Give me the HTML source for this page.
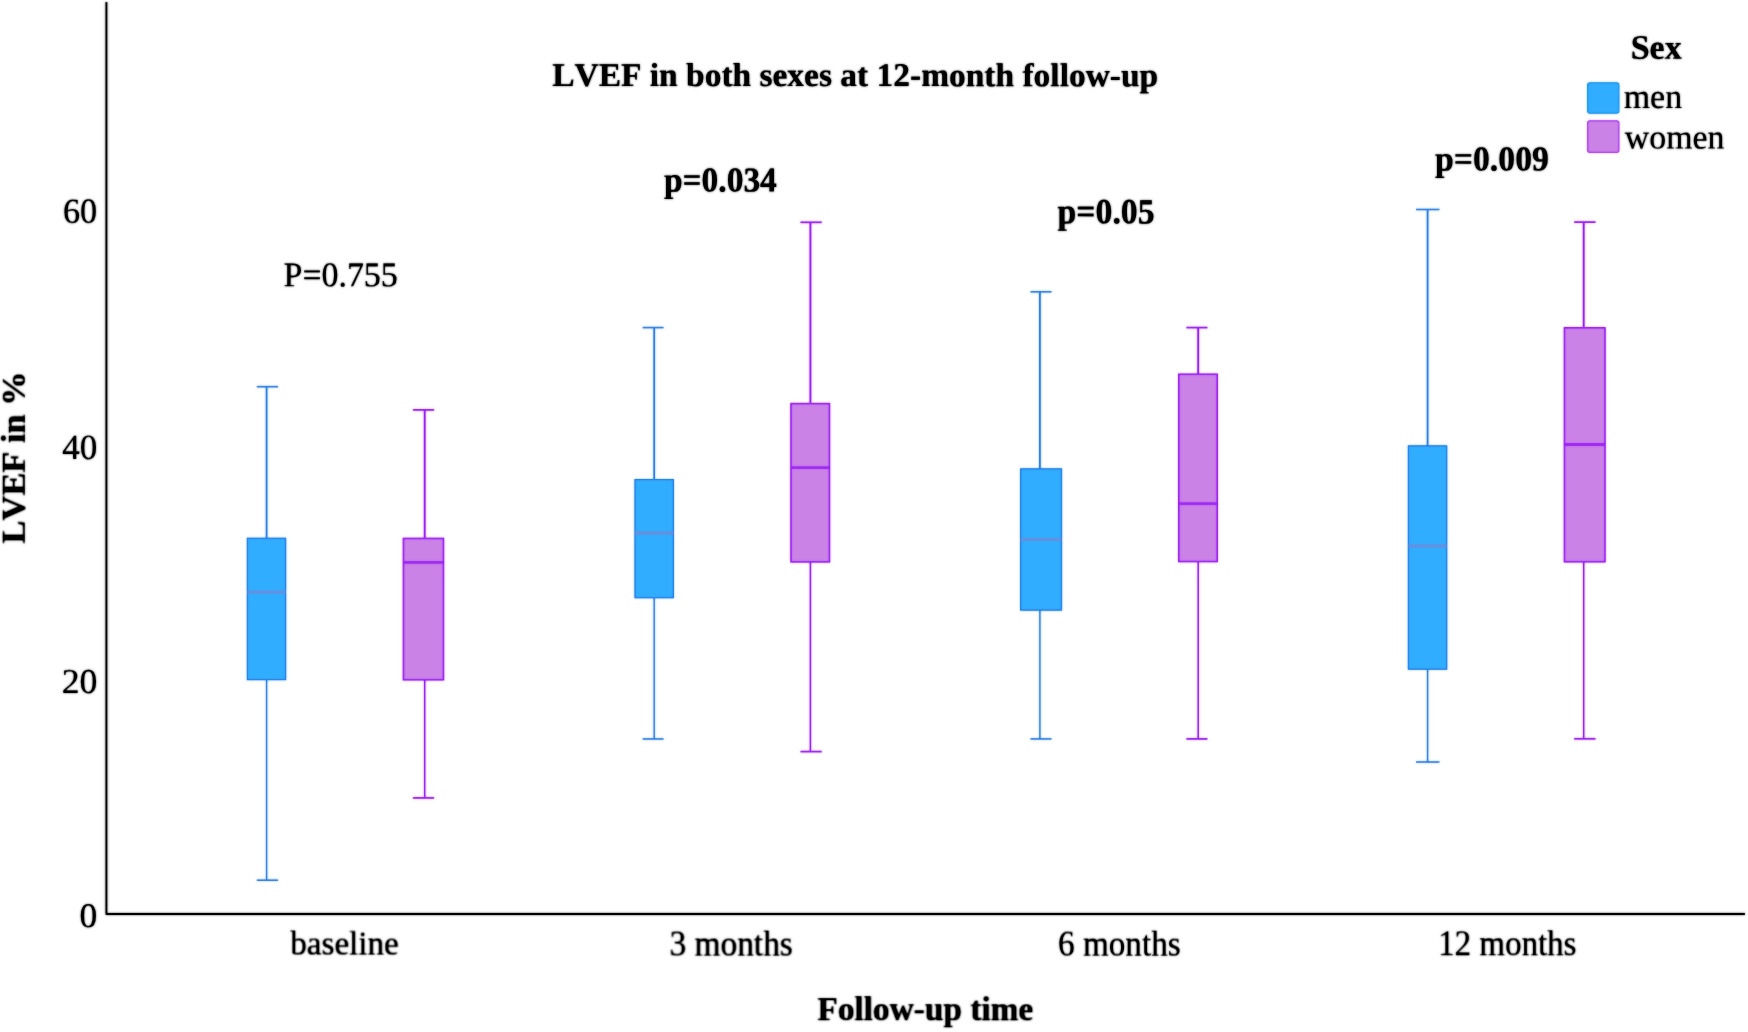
<!DOCTYPE html>
<html><head><meta charset="utf-8"><title>LVEF in both sexes at 12-month follow-up</title>
<style>
html,body{margin:0;padding:0;background:#fff;}
body{width:1748px;height:1032px;overflow:hidden;}
svg{display:block;}
text{font-kerning:none;font-family:"Liberation Serif","Times New Roman",serif;fill:#000;font-size:33px;stroke:#000;}
.r{stroke-width:0.15px;}
.b{font-weight:bold;stroke-width:0.2px;}
</style></head><body>
<svg width="1748" height="1032" viewBox="0 0 1748 1032">
<defs>
<filter id="soft" color-interpolation-filters="sRGB" x="0" y="0" width="1748" height="1032" filterUnits="userSpaceOnUse"><feGaussianBlur in="SourceGraphic" stdDeviation="0.9" result="b"/><feComposite in="b" in2="SourceGraphic" operator="arithmetic" k1="0" k2="0.45" k3="0.55" k4="0"/><feComponentTransfer><feFuncA type="linear" slope="1.3" intercept="0"/></feComponentTransfer></filter>
<filter id="ink" color-interpolation-filters="sRGB" x="0" y="0" width="1748" height="1032" filterUnits="userSpaceOnUse"><feGaussianBlur in="SourceGraphic" stdDeviation="0.9" result="b"/><feComposite in="b" in2="SourceGraphic" operator="arithmetic" k1="0" k2="0.55" k3="0.44999999999999996" k4="0"/><feComponentTransfer><feFuncA type="linear" slope="1.3" intercept="0"/></feComponentTransfer></filter>
</defs>
<rect width="1748" height="1032" fill="#fff"/>
<!-- box plots -->
<g filter="url(#soft)">
<g fill="none" stroke="#2a7fe6">
<line x1="266.6" x2="266.6" y1="386.7" y2="538.7" stroke-width="1.7"/>
<line x1="266.6" x2="266.6" y1="679.2" y2="880.2" stroke-width="1.4"/>
<line x1="256.8" x2="278.1" y1="386.7" y2="386.7" stroke="#3a86e4" stroke-width="1.6" stroke-linecap="butt"/>
<line x1="256.8" x2="278.1" y1="880.2" y2="880.2" stroke="#3a86e4" stroke-width="1.6" stroke-linecap="butt"/>
<rect x="247.45" y="538.35" width="38.10" height="141.20" fill="#30adfe" stroke-width="1.3"/>
<line x1="247.45" x2="285.55" y1="592.2" y2="592.2" stroke="#6c8cdc" stroke-width="2.8"/>
</g>
<g fill="none" stroke="#9a22f2">
<line x1="424.7" x2="424.7" y1="409.9" y2="538.7" stroke-width="1.8"/>
<line x1="424.7" x2="424.7" y1="679.5" y2="797.9" stroke-width="1.5"/>
<line x1="412.9" x2="434.2" y1="409.9" y2="409.9" stroke="#9f2cf3" stroke-width="1.7" stroke-linecap="butt"/>
<line x1="412.9" x2="434.2" y1="797.9" y2="797.9" stroke="#9f2cf3" stroke-width="1.7" stroke-linecap="butt"/>
<rect x="403.50" y="538.50" width="39.90" height="141.20" fill="#cb82e6" stroke-width="1.6"/>
<line x1="403.50" x2="443.40" y1="562.4" y2="562.4" stroke="#9a22f2" stroke-width="2.8"/>
</g>
<g fill="none" stroke="#2a7fe6">
<line x1="654.2" x2="654.2" y1="327.6" y2="480.0" stroke-width="1.7"/>
<line x1="654.2" x2="654.2" y1="597.3" y2="738.95" stroke-width="1.4"/>
<line x1="642.6" x2="663.6" y1="327.6" y2="327.6" stroke="#3a86e4" stroke-width="1.6" stroke-linecap="butt"/>
<line x1="642.6" x2="663.6" y1="738.95" y2="738.95" stroke="#3a86e4" stroke-width="1.6" stroke-linecap="butt"/>
<rect x="635.05" y="479.65" width="38.30" height="118.00" fill="#30adfe" stroke-width="1.3"/>
<line x1="635.05" x2="673.35" y1="533.0" y2="533.0" stroke="#6c8cdc" stroke-width="2.8"/>
</g>
<g fill="none" stroke="#9a22f2">
<line x1="810.4" x2="810.4" y1="222.3" y2="403.9" stroke-width="1.8"/>
<line x1="810.4" x2="810.4" y1="561.6" y2="751.6" stroke-width="1.5"/>
<line x1="800.4" x2="821.8" y1="222.3" y2="222.3" stroke="#9f2cf3" stroke-width="1.7" stroke-linecap="butt"/>
<line x1="800.4" x2="821.8" y1="751.6" y2="751.6" stroke="#9f2cf3" stroke-width="1.7" stroke-linecap="butt"/>
<rect x="791.10" y="403.70" width="38.30" height="158.10" fill="#cb82e6" stroke-width="1.6"/>
<line x1="791.10" x2="829.40" y1="467.6" y2="467.6" stroke="#9a22f2" stroke-width="2.8"/>
</g>
<g fill="none" stroke="#2a7fe6">
<line x1="1039.9" x2="1039.9" y1="291.8" y2="469.3" stroke-width="1.7"/>
<line x1="1039.9" x2="1039.9" y1="609.7" y2="738.9" stroke-width="1.4"/>
<line x1="1030.4" x2="1051.6" y1="291.8" y2="291.8" stroke="#3a86e4" stroke-width="1.6" stroke-linecap="butt"/>
<line x1="1030.4" x2="1051.6" y1="738.9" y2="738.9" stroke="#3a86e4" stroke-width="1.6" stroke-linecap="butt"/>
<rect x="1020.75" y="468.95" width="40.70" height="141.10" fill="#30adfe" stroke-width="1.3"/>
<line x1="1020.75" x2="1061.45" y1="539.4" y2="539.4" stroke="#6c8cdc" stroke-width="2.8"/>
</g>
<g fill="none" stroke="#9a22f2">
<line x1="1198.2" x2="1198.2" y1="327.6" y2="374.5" stroke-width="1.8"/>
<line x1="1198.2" x2="1198.2" y1="561.3" y2="738.9" stroke-width="1.5"/>
<line x1="1186.3" x2="1207.5" y1="327.6" y2="327.6" stroke="#9f2cf3" stroke-width="1.7" stroke-linecap="butt"/>
<line x1="1186.3" x2="1207.5" y1="738.9" y2="738.9" stroke="#9f2cf3" stroke-width="1.7" stroke-linecap="butt"/>
<rect x="1178.90" y="374.30" width="38.20" height="187.20" fill="#cb82e6" stroke-width="1.6"/>
<line x1="1178.90" x2="1217.10" y1="503.7" y2="503.7" stroke="#9a22f2" stroke-width="2.8"/>
</g>
<g fill="none" stroke="#2a7fe6">
<line x1="1427.6" x2="1427.6" y1="209.5" y2="446.3" stroke-width="1.7"/>
<line x1="1427.6" x2="1427.6" y1="668.75" y2="762.0" stroke-width="1.4"/>
<line x1="1416.0" x2="1439.5" y1="209.5" y2="209.5" stroke="#3a86e4" stroke-width="1.6" stroke-linecap="butt"/>
<line x1="1416.0" x2="1439.5" y1="762.0" y2="762.0" stroke="#3a86e4" stroke-width="1.6" stroke-linecap="butt"/>
<rect x="1408.45" y="445.95" width="38.20" height="223.15" fill="#30adfe" stroke-width="1.3"/>
<line x1="1408.45" x2="1446.65" y1="546.0" y2="546.0" stroke="#6c8cdc" stroke-width="2.8"/>
</g>
<g fill="none" stroke="#9a22f2">
<line x1="1583.7" x2="1583.7" y1="222.1" y2="328.1" stroke-width="1.8"/>
<line x1="1583.7" x2="1583.7" y1="561.5" y2="738.8" stroke-width="1.5"/>
<line x1="1574.1" x2="1595.6" y1="222.1" y2="222.1" stroke="#9f2cf3" stroke-width="1.7" stroke-linecap="butt"/>
<line x1="1574.1" x2="1595.6" y1="738.8" y2="738.8" stroke="#9f2cf3" stroke-width="1.7" stroke-linecap="butt"/>
<rect x="1564.50" y="327.90" width="40.40" height="233.80" fill="#cb82e6" stroke-width="1.6"/>
<line x1="1564.50" x2="1604.90" y1="444.5" y2="444.5" stroke="#9a22f2" stroke-width="2.8"/>
</g>
<!-- legend -->
<rect x="1587.8" y="82.9" width="30.9" height="30.2" rx="2" fill="#30adfe" stroke="#2b9cf0" stroke-width="1.5"/>
<rect x="1587.8" y="121.1" width="30.9" height="31.2" rx="2" fill="#cb82e6" stroke="#b14df0" stroke-width="1.5"/>
</g>
<g filter="url(#ink)">
<!-- axes -->
<path d="M106.4 2 V914.05 H1745" fill="none" stroke="#000" stroke-width="1.9" stroke-linejoin="round"/>
<!-- text -->
<text class="r" transform="translate(62.89,222.85) rotate(0.03) scale(1.0348,1.0663)">60</text>
<text class="r" transform="translate(62.36,459.11) rotate(0.03) scale(1.0615,1.0724)">40</text>
<text class="r" transform="translate(61.67,693.02) rotate(0.03) scale(1.0824,1.0581)">20</text>
<text class="r" transform="translate(79.38,927.01) rotate(0.03) scale(1.0755,1.0456)">0</text>
<text class="r" transform="translate(290.33,954.98) rotate(0.03) scale(1.0035,1.0487)">baseline</text>
<text class="r" transform="translate(669.56,955.63) rotate(0.03) scale(1.0115,1.0672)">3 months</text>
<text class="r" transform="translate(1058.01,955.58) rotate(0.03) scale(1.0068,1.0651)">6 months</text>
<text class="r" transform="translate(1438.13,955.66) rotate(0.03) scale(1.0001,1.0781)">12 months</text>
<text class="b" transform="translate(817.42,1020.26) rotate(0.03) scale(1.0112,1.0358)">Follow-up time</text>
<text class="b" transform="rotate(-90) translate(-543.51,24.74) rotate(0.03) scale(1.0440,1.0323)">LVEF in %</text>
<text class="b" transform="translate(552.21,85.92) rotate(0.03) scale(1.0142,1.0027)">LVEF in both sexes at 12-month follow-up</text>
<text class="r" transform="translate(283.59,286.13) rotate(0.03) scale(1.0270,1.0509)">P=0.755</text>
<text class="b" transform="translate(663.93,191.53) rotate(0.03) scale(1.0138,1.0568)">p=0.034</text>
<text class="b" transform="translate(1057.60,223.34) rotate(0.03) scale(1.0217,1.0749)">p=0.05</text>
<text class="b" transform="translate(1435.08,170.51) rotate(0.03) scale(1.0213,1.0621)">p=0.009</text>
<text class="b" transform="translate(1630.63,58.77) rotate(0.03) scale(1.0313,1.0416)">Sex</text>
<text class="r" transform="translate(1623.74,108.07) rotate(0.03) scale(1.0280,1.0420)">men</text>
<text class="r" transform="translate(1624.78,148.56) rotate(0.03) scale(1.0257,1.0336)">women</text>
</g>
</svg>
</body></html>
